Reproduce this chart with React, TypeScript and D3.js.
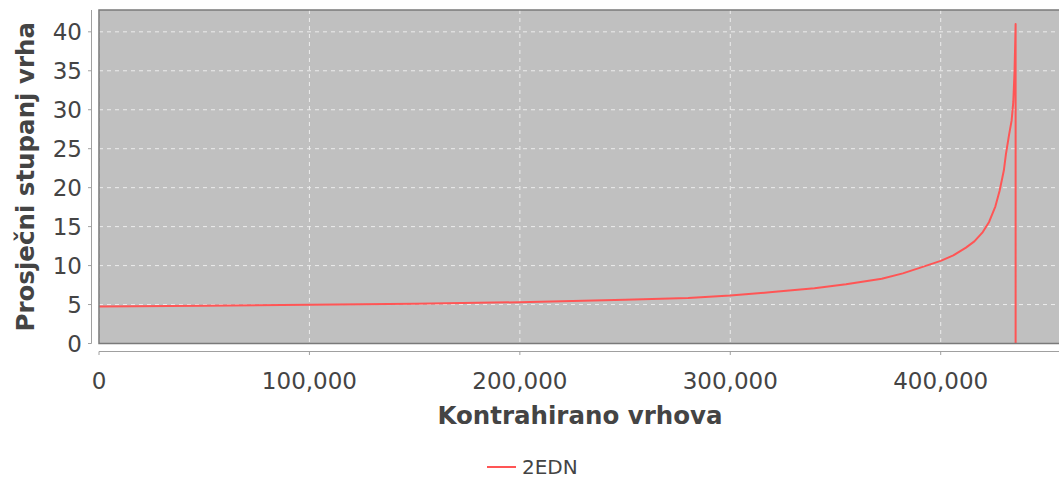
import React from "react";
import * as d3 from "d3";

const xValues = [0, 50000, 100000, 150000, 200000, 250000, 280000, 300000, 320000, 340000, 355000, 372000, 382000, 390000, 400000, 406000, 412000, 416000, 420000, 423000, 426000, 428000, 430000, 431000, 432500, 433700, 434500, 435100, 435400, 435600, 435600];
const yValues = [4.75, 4.85, 4.97, 5.1, 5.3, 5.6, 5.85, 6.15, 6.6, 7.1, 7.6, 8.3, 9.0, 9.7, 10.6, 11.3, 12.3, 13.1, 14.3, 15.6, 17.6, 19.6, 22.2, 24.3, 26.8, 28.6, 31, 35, 38.5, 41, 0];
const xTicks = [0, 100000, 200000, 300000, 400000];
const yTicks = [0, 5, 10, 15, 20, 25, 30, 35, 40];
const seriesName = "2EDN";
const xTitle = "Kontrahirano vrhova";
const yTitle = "Prosječni stupanj vrha";

const W = 1059, H = 480;
const L = 99, T = 10, B = 343.5;
const FONT = "DejaVu Sans, sans-serif";

export default function App() {
  const x = d3.scaleLinear().domain([0, 460000]).range([L, L + 460000 * 841.7 / 400000]);
  const y = d3.scaleLinear().domain([0, 42.8]).range([B, T]);
  const R = W + 20;
  const pts = xValues.map((v, i) => [v, yValues[i]] as [number, number]);
  const line = d3.line<[number, number]>().x(d => x(d[0])).y(d => y(d[1]));
  const fmt = d3.format(",");
  return (
    <svg width={W} height={H} style={{ position: "absolute", left: 0, top: 0, background: "#fff" }}>
      <defs>
        <clipPath id="plot"><rect x={L} y={T} width={R - L} height={B - T} /></clipPath>
      </defs>
      <rect x={L} y={T} width={R - L} height={B - T} fill="#c0c0c0" />
      {xTicks.map(t => (
        <line key={"gx" + t} x1={x(t)} x2={x(t)} y1={T} y2={B} stroke="#ececec" strokeWidth={1} strokeDasharray="4,4" />
      ))}
      {yTicks.map(t => (
        <line key={"gy" + t} x1={L} x2={R} y1={y(t)} y2={y(t)} stroke="#ececec" strokeWidth={1} strokeDasharray="4,4" />
      ))}
      <path d={line(pts) || ""} fill="none" stroke="#ff5555" strokeWidth={2} strokeLinejoin="round" clipPath="url(#plot)" />
      <rect x={L} y={T} width={R - L} height={B - T} fill="none" stroke="#7a7a7a" strokeWidth={1.5} />
      {/* Y axis */}
      <line x1={91.5} x2={91.5} y1={T} y2={B} stroke="#a0a0a0" strokeWidth={1} />
      {yTicks.map(t => (
        <g key={"yt" + t}>
          <line x1={88} x2={91.5} y1={y(t)} y2={y(t)} stroke="#a0a0a0" />
          <text x={82} y={y(t)} dy="0.36em" textAnchor="end" fontFamily={FONT} fontSize={23} fill="#444">{t}</text>
        </g>
      ))}
      <text transform={`translate(34,${(T + B) / 2}) rotate(-90)`} textAnchor="middle" fontFamily={FONT} fontSize={24.5} fontWeight="bold" fill="#444">{yTitle}</text>
      {/* X axis */}
      <line x1={L} x2={R} y1={351.5} y2={351.5} stroke="#a0a0a0" strokeWidth={1} />
      {xTicks.map(t => (
        <g key={"xt" + t}>
          <line x1={x(t)} x2={x(t)} y1={351.5} y2={355} stroke="#a0a0a0" />
          <text x={x(t)} y={389} textAnchor="middle" fontFamily={FONT} fontSize={23} fill="#444">{fmt(t)}</text>
        </g>
      ))}
      <text x={580} y={424} textAnchor="middle" fontFamily={FONT} fontSize={24.5} fontWeight="bold" fill="#444">{xTitle}</text>
      {/* Legend */}
      <line x1={487} x2={516} y1={467} y2={467} stroke="#ff5555" strokeWidth={2} />
      <text x={522} y={474} fontFamily={FONT} fontSize={20} fill="#444">{seriesName}</text>
    </svg>
  );
}
